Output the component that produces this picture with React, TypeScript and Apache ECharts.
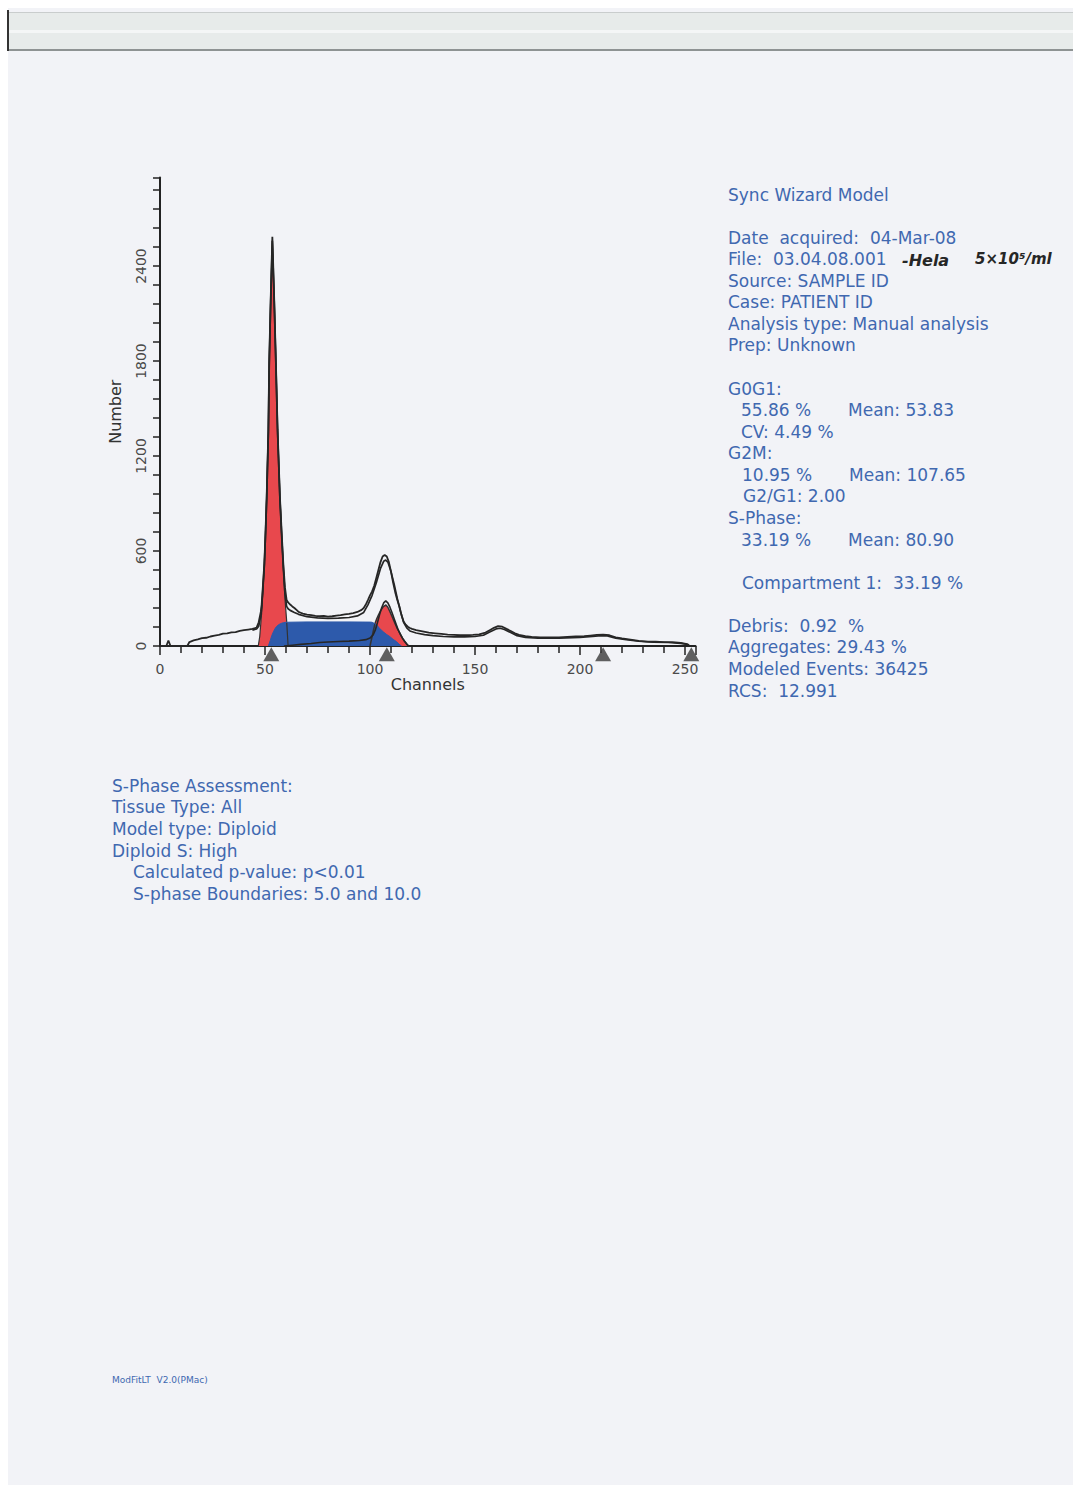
import React, { useEffect, useRef } from "react";
import * as echarts from "echarts";

// ---- Data (channel, count) ----
const HIST_DATA: [number, number][] = [
  [0, 0], [3, 0], [4, 35], [5, 0], [13, 0], [14, 25], [16, 35], [18, 42], [20, 50], [22, 52], [24, 60],
  [26, 66], [28, 70], [30, 78], [32, 80], [34, 86], [36, 88], [38, 96], [40, 100], [42, 104], [44, 108],
  [46, 116], [47, 150], [48, 215], [48.4, 260], [49, 380], [49.7, 524], [50.2, 700], [50.8, 943],
  [51.6, 1365], [52, 1788], [52.7, 2186], [53.5, 2585], [54.4, 2186], [55.2, 1788], [56, 1365],
  [57.1, 943], [58, 700], [58.7, 524], [59.5, 370], [60.3, 290], [61, 275], [62, 262], [63, 250],
  [64, 240], [65, 228], [66, 215], [67, 210], [68, 205], [70, 198], [72, 195], [74, 190], [76, 188],
  [78, 190], [80, 186], [82, 188], [84, 192], [86, 195], [88, 200], [90, 203], [92, 208], [94, 215],
  [96, 228], [97, 240], [98, 262], [99, 290], [100, 320], [101, 345], [102, 380], [103, 430], [104, 480],
  [105, 530], [106, 565], [107, 575], [108, 565], [109, 530], [110, 470], [111, 400], [112, 340],
  [113, 290], [114, 250], [115, 195], [116, 155], [117, 135], [118, 122], [119, 114], [120, 108],
  [122, 100], [125, 92], [128, 84], [131, 80], [134, 76], [137, 72], [140, 70], [143, 68], [146, 68],
  [149, 70], [152, 74], [155, 85], [157, 100], [159, 115], [161, 126], [163, 122], [165, 108], [167, 95],
  [169, 80], [171, 70], [174, 62], [177, 58], [181, 55], [185, 55], [190, 55], [194, 58], [198, 60],
  [202, 62], [205, 66], [208, 70], [211, 72], [214, 68], [217, 55], [220, 48], [224, 40], [228, 32],
  [232, 28], [236, 27], [240, 25], [244, 24], [248, 20], [251, 12], [252, 0],
];

const FIT_DATA: [number, number][] = [
  [44, 100], [46, 108], [47, 125], [48, 190], [48.4, 240], [49, 360], [49.7, 510], [50.2, 690],
  [50.8, 930], [51.6, 1350], [52, 1770], [52.7, 2170], [53.5, 2560], [54.4, 2170], [55.2, 1770],
  [56, 1350], [57.1, 930], [58, 680], [58.7, 500], [59.5, 330], [60.3, 250], [61, 235], [62, 225],
  [64, 212], [66, 200], [70, 185], [75, 178], [80, 175], [85, 176], [90, 180], [94, 190], [97, 212],
  [99, 260], [101, 320], [103, 400], [105, 490], [106.5, 535], [107.5, 543], [108.5, 530], [110, 470],
  [111.5, 390], [113, 300], [114.5, 220], [116, 150], [117.5, 115], [119, 95], [122, 82], [126, 72],
  [130, 65], [135, 60], [140, 58], [145, 58], [150, 60], [154, 68], [157, 88], [160, 108], [162, 112],
  [164, 104], [167, 85], [170, 65], [174, 55], [180, 50], [190, 50], [200, 55], [206, 60], [210, 66],
  [213, 64], [217, 50], [222, 40], [228, 30], [235, 25], [242, 22], [248, 17], [252, 8],
];

const AGGREGATES: [number, number][] = [
  [59, 0], [63, 5], [67, 10], [72, 16], [76, 22], [80, 25], [85, 28], [90, 31], [95, 35], [98, 40],
  [100, 50], [101.5, 70], [102.5, 100], [103.5, 145], [104.5, 195], [105.5, 240], [106.5, 272],
  [107.5, 285], [108.5, 272], [109.5, 245], [110.5, 210], [111.5, 172], [112.5, 135], [113.5, 100],
  [114.5, 72], [115.5, 48], [116.5, 28], [117.5, 12], [118.5, 0],
];

const G0G1_MODEL: [number, number][] = [
  [46.8, 0], [47.5, 60], [48.4, 208], [49, 350], [49.7, 524], [50.2, 700], [50.8, 943], [51.6, 1365],
  [52, 1788], [52.7, 2186], [53.5, 2560], [54.4, 2186], [55.2, 1788], [56, 1365], [57.1, 943],
  [58, 680], [58.7, 500], [59.5, 300], [60.3, 160], [61, 0],
];

const G2M_MODEL: [number, number][] = [
  [100, 0], [101.5, 90], [102.4, 143], [103.2, 172], [104, 196], [105, 222], [106.3, 248],
  [107.6, 259], [108.5, 245], [109.5, 217], [110.7, 180], [111.9, 143], [113, 110], [114.3, 80],
  [115.5, 50], [116.7, 27], [118.2, 0],
];

const S_PHASE_MODEL: [number, number][] = [
  [51.6, 0], [52.5, 35], [53.2, 65], [54, 90], [55, 115], [56.3, 133], [57.5, 142], [58.7, 147],
  [60, 150], [70, 152], [80, 152], [90, 152], [100, 151], [101, 150], [102, 143], [103.2, 133],
  [104.5, 112], [106.3, 90], [108, 72], [109.5, 59], [111, 42], [112.7, 27], [113.8, 12], [115, 0],
];

const MARKER_CHANNELS = [53, 108, 211, 253];
const MARKER_LEVEL = -52;

const Y_LABELS = [0, 600, 1200, 1800, 2400];
const X_LABELS = [0, 50, 100, 150, 200, 250];

// ---- Styles ----
const RED = "#e8484d";
const BLUE = "#2d5aab";
const INK = "#262626";
const AXIS = "#222222";
const TXT = "#4068b0";
const FONT = "DejaVu Sans";

function txt(text: string, x: number, y: number, size = 17, color = TXT, extra: any = {}) {
  return {
    type: "text",
    x,
    y,
    z: 10,
    style: {
      text,
      fill: color,
      fontSize: size,
      fontFamily: FONT,
      verticalAlign: "middle",
      align: "left",
      ...extra,
    },
  };
}

export default function App() {
  const ref = useRef<HTMLDivElement>(null);

  useEffect(() => {
    if (!ref.current) return;
    const chart = echarts.init(ref.current, null, { renderer: "svg" });

    const lineBase = { type: "line", symbol: "none", smooth: false, silent: true };

    const option: any = {
      animation: false,
      backgroundColor: "#ffffff",
      grid: { left: 160, right: 377.5, top: 177.4, bottom: 847, containLabel: false },
      xAxis: {
        type: "value",
        min: 0,
        max: 255,
        interval: 50,
        name: "Channels",
        nameLocation: "middle",
        nameGap: 30,
        nameTextStyle: { fontSize: 16, fontFamily: FONT, color: "#333" },
        axisLine: { show: true, onZero: false, lineStyle: { color: AXIS, width: 2 } },
        axisTick: { show: true, inside: false, length: 9, lineStyle: { color: AXIS, width: 1.5 } },
        minorTick: { show: true, splitNumber: 5, length: 7, lineStyle: { color: AXIS, width: 1.5 } },
        axisLabel: {
          margin: 16,
          fontSize: 14,
          fontFamily: FONT,
          color: "#4a4a4a",
          showMaxLabel: false,
          formatter: (v: number) => (X_LABELS.includes(v) ? String(v) : ""),
        },
        splitLine: { show: false },
        minorSplitLine: { show: false },
      },
      yAxis: {
        type: "value",
        min: 0,
        max: 2960,
        interval: 120,
        name: "Number",
        nameLocation: "middle",
        nameGap: 37,
        nameRotate: 90,
        nameTextStyle: { fontSize: 16, fontFamily: FONT, color: "#333" },
        axisLine: { show: true, lineStyle: { color: AXIS, width: 2 } },
        axisTick: { show: true, length: 7, lineStyle: { color: AXIS, width: 1.5 } },
        axisLabel: {
          rotate: 90,
          margin: 12,
          fontSize: 14,
          fontFamily: FONT,
          color: "#4a4a4a",
          formatter: (v: number) => (Y_LABELS.includes(v) ? String(v) : ""),
        },
        splitLine: { show: false },
      },
      series: [
        {
          ...lineBase,
          name: "G0G1",
          data: G0G1_MODEL,
          lineStyle: { color: "#333", width: 1.2 },
          areaStyle: { color: RED, opacity: 1 },
        },
        {
          ...lineBase,
          name: "G2M",
          data: G2M_MODEL,
          lineStyle: { color: "#333", width: 1.5 },
          areaStyle: { color: RED, opacity: 1 },
        },
        {
          ...lineBase,
          name: "S-Phase",
          data: S_PHASE_MODEL,
          lineStyle: { color: BLUE, width: 1 },
          areaStyle: { color: BLUE, opacity: 1 },
        },
        {
          ...lineBase,
          name: "Aggregates",
          data: AGGREGATES,
          lineStyle: { color: INK, width: 1.6 },
        },
        {
          ...lineBase,
          name: "Model fit",
          data: FIT_DATA,
          lineStyle: { color: INK, width: 1.7 },
        },
        {
          ...lineBase,
          name: "Data",
          data: HIST_DATA,
          lineStyle: { color: INK, width: 1.8 },
        },
        {
          type: "scatter",
          name: "Markers",
          silent: true,
          clip: false,
          symbol: "triangle",
          symbolSize: [16, 14],
          itemStyle: { color: "#3a3a3a" },
          data: MARKER_CHANNELS.map((c) => [c, MARKER_LEVEL]),
          z: 5,
        },
      ],
      graphic: [
        // paper
        { type: "rect", z: -10, shape: { x: 8, y: 8, width: 1065, height: 1477 }, style: { fill: "#f2f3f7" } },
        // sleeve strip at the top
        { type: "rect", z: -9, shape: { x: 8, y: 12, width: 1065, height: 38 }, style: { fill: "#e7ebea" } },
        { type: "rect", z: -9, shape: { x: 8, y: 30, width: 1065, height: 3 }, style: { fill: "#f4f6f6" } },
        { type: "rect", z: -8, shape: { x: 8, y: 49, width: 1065, height: 2 }, style: { fill: "#8e9393" } },
        { type: "rect", z: -8, shape: { x: 8, y: 12, width: 1065, height: 1 }, style: { fill: "#c9cdcd" } },
        { type: "rect", z: -8, shape: { x: 7, y: 10, width: 2, height: 41 }, style: { fill: "#333333" } },

        // right info panel
        txt("Sync Wizard Model", 728, 195),
        txt("Date  acquired:  04-Mar-08", 728, 238),
        txt("File:  03.04.08.001", 728, 259),
        txt("-Hela", 902, 260, 16, "#262626", { fontWeight: "bold", fontStyle: "italic" }),
        txt("5×10⁵/ml", 975, 259, 15, "#262626", { fontStyle: "italic", fontWeight: "bold" }),
        txt("Source: SAMPLE ID", 728, 281),
        txt("Case: PATIENT ID", 728, 302),
        txt("Analysis type: Manual analysis", 728, 324),
        txt("Prep: Unknown", 728, 345),
        txt("G0G1:", 728, 389),
        txt("55.86 %", 741, 410),
        txt("Mean: 53.83", 848, 410),
        txt("CV: 4.49 %", 741, 432),
        txt("G2M:", 728, 453),
        txt("10.95 %", 742, 475),
        txt("Mean: 107.65", 849, 475),
        txt("G2/G1: 2.00", 743, 496),
        txt("S-Phase:", 728, 518),
        txt("33.19 %", 741, 540),
        txt("Mean: 80.90", 848, 540),
        txt("Compartment 1:  33.19 %", 742, 583),
        txt("Debris:  0.92  %", 728, 626),
        txt("Aggregates: 29.43 %", 728, 647),
        txt("Modeled Events: 36425", 728, 669),
        txt("RCS:  12.991", 728, 691),

        // S-phase assessment block
        txt("S-Phase Assessment:", 112, 786),
        txt("Tissue Type: All", 112, 807),
        txt("Model type: Diploid", 112, 829),
        txt("Diploid S: High", 112, 851),
        txt("Calculated p-value: p<0.01", 133, 872),
        txt("S-phase Boundaries: 5.0 and 10.0", 133, 894),

        // footer
        txt("ModFitLT  V2.0(PMac)", 112, 1380, 9),
      ],
    };

    chart.setOption(option);
    return () => chart.dispose();
  }, []);

  return (
    <div
      ref={ref}
      style={{ position: "absolute", left: 0, top: 0, width: 1073, height: 1493 }}
    />
  );
}
